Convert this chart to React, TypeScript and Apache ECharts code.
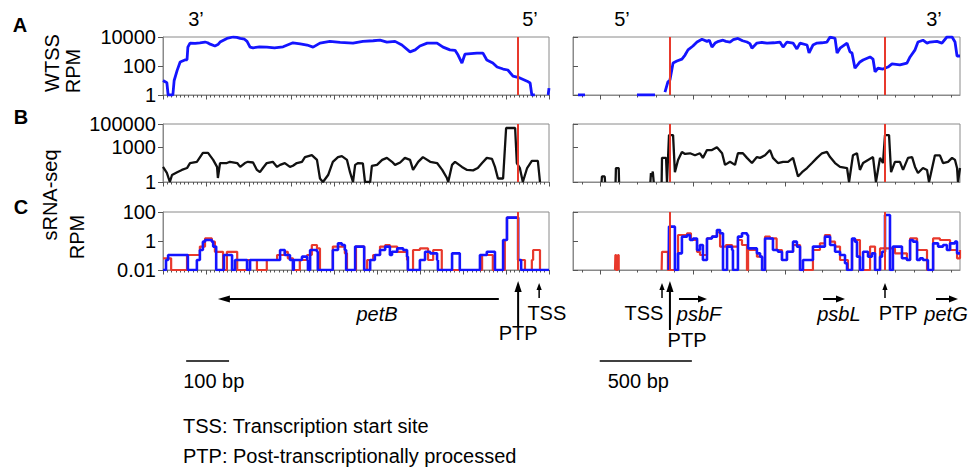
import React, { useEffect, useRef } from "react";
import * as echarts from "echarts";

const FONT_FAMILY = "'Liberation Sans', Arial, Helvetica, sans-serif";
const BLUE = "#1414ff";
const RED = "#e8392c";
const BLACK = "#111111";
const FRAME = "#8a8a8a";
const TICK = "#555555";

type Pt = [number, number | null];

// ---------- x axes (bp) ----------
const leftRange: [number, number] = [0, 900];
const rightRange: [number, number] = [-150, 1950];
const leftTickInterval = 100;
const rightMajorTicks = [0, 500, 1000, 1500];
const rightMinorTicks = [-100, 100, 200, 300, 400, 600, 700, 800, 900, 1100, 1200, 1300, 1400, 1600, 1700, 1800, 1900];

// ---------- y axes tick labels ----------
const wtssTicks = [1, 100, 10000];
const srnaTicks = [1, 1000, 100000];
const rpmTicks = [0.01, 1, 100];

// ---------- processing sites (red lines, bp) ----------
const sitesLeft = [828];
const sitesRight = [376, 1543];

// ---------- A: WTSS RPM ----------
const wtssLeft: Pt[] = [
  [0, 10], [9, 7], [12, 1], [23, 1], [26, 10], [33, 50], [40, 190], [51, 260], [56, 270], [58, 2000], [63, 3800],
  [75, 3600], [86, 4000], [98, 4500], [104, 4000], [110, 3200], [121, 2400], [128, 3000], [133, 4500], [149, 8000],
  [163, 10000], [172, 9500], [180, 8000], [190, 7000], [196, 5000], [203, 2000], [210, 1800], [225, 2100], [242, 2000],
  [260, 1800], [280, 2100], [303, 4000], [320, 3400], [336, 2800], [350, 2000], [366, 3800], [389, 5000], [413, 4200],
  [443, 3800], [466, 5000], [490, 5500], [506, 6000], [522, 4500], [541, 5000], [557, 2800], [576, 950], [588, 1300],
  [599, 2400], [616, 3800], [639, 3800], [653, 2000], [669, 1300], [681, 1200], [688, 570], [697, 160], [704, 650],
  [732, 780], [746, 780], [755, 260], [769, 160], [779, 85], [793, 62], [804, 53], [816, 20], [832, 15], [849, 9],
  [856, 6.7], [860, 1], [867, 1], [868, null], [898, 1], [900, 3],
];
const wtssRight: Pt[] = [
  [-123, 1], [-85, 1], [-84, null], [197, 1], [295, 1], [296, null],
  [349, 1.6], [365, 8], [376, 11], [393, 160], [414, 220], [441, 300], [458, 570], [474, 1300], [501, 2400], [523, 4500],
  [550, 7000], [577, 5000], [590, 6000], [604, 2000], [621, 3800], [640, 5000], [664, 6000], [680, 5000], [702, 4500],
  [720, 6500], [745, 8000], [770, 5500], [794, 4500], [810, 3500], [821, 1700], [848, 3800], [875, 4200], [903, 3800],
  [940, 4000], [973, 4500], [990, 2000], [1011, 4500], [1044, 3800], [1065, 1500], [1082, 3800], [1120, 2800],
  [1131, 800], [1152, 2800], [1174, 3800], [1200, 4000], [1228, 4500], [1245, 10000], [1272, 8000], [1283, 780],
  [1299, 1700], [1337, 3800], [1353, 950], [1364, 780], [1380, 70], [1407, 190], [1424, 260], [1462, 420], [1478, 300],
  [1489, 40], [1505, 70], [1532, 62], [1559, 85], [1581, 140], [1624, 120], [1662, 160], [1679, 420], [1706, 1300],
  [1722, 4500], [1749, 6000], [1771, 3800], [1787, 4500], [1825, 5000], [1852, 3800], [1879, 10000], [1907, 10000],
  [1923, 4500], [1934, 490], [1950, 490],
];

// ---------- B: sRNA-seq ----------
const srnaLeft: Pt[] = [
  [0, 20], [9, 6], [16, 1], [21, 4], [33, 7], [44, 11], [56, 16], [63, 43], [79, 55], [93, 320], [105, 320], [117, 80],
  [126, 20], [128, 2.2], [133, 43], [149, 43], [156, 55], [173, 43], [180, 20], [191, 43], [198, 55], [210, 48],
  [219, 11], [226, 7], [233, 16], [242, 43], [256, 55], [266, 20], [273, 30], [284, 43], [296, 20], [303, 25],
  [312, 43], [324, 55], [331, 140], [347, 210], [359, 80], [366, 2], [373, 1], [385, 4], [396, 55], [408, 140],
  [417, 170], [429, 80], [436, 7], [443, 1], [448, 30], [455, 43], [466, 40], [471, 1], [483, 1], [487, 24], [499, 30],
  [511, 80], [522, 120], [534, 55], [541, 30], [553, 48], [564, 120], [576, 80], [583, 11], [595, 55], [606, 140],
  [623, 55], [639, 43], [651, 11], [662, 2.2], [665, 1], [674, 30], [681, 55], [697, 20], [709, 11], [723, 10],
  [734, 16], [744, 43], [755, 120], [767, 100], [774, 20], [781, 2], [793, 2], [800, 45000], [821, 45000], [825, 43],
  [832, 16], [839, 1], [849, 16], [860, 65], [874, 65], [879, 1],
];
const srnaRight: Pt[] = [
  [5, 1], [7, 3], [22, 3], [24, 1], [26, null], [81, 1], [83, 16], [98, 16], [100, 1], [102, null],
  [270, 1], [273, 6], [278, 3], [283, 8], [288, 1], [290, null],
  [331, 1], [333, 120], [355, 120], [360, 1], [371, 11000], [393, 11000], [403, 7], [420, 80], [441, 390], [458, 260],
  [485, 300], [512, 200], [539, 300], [555, 120], [577, 570], [604, 570], [631, 1000], [659, 300], [675, 30], [702, 55],
  [729, 30], [745, 300], [772, 300], [794, 120], [821, 43], [848, 140], [865, 120], [892, 200], [919, 570], [935, 120],
  [962, 43], [990, 55], [1017, 55], [1044, 120], [1071, 3], [1093, 7], [1120, 16], [1147, 43], [1174, 120], [1201, 300],
  [1228, 390], [1245, 140], [1272, 43], [1299, 20], [1337, 16], [1348, 1], [1369, 200], [1391, 300], [1407, 11],
  [1424, 43], [1451, 80], [1478, 140], [1494, 1], [1516, 120], [1532, 43], [1543, 11000], [1565, 11000], [1576, 7],
  [1597, 55], [1624, 55], [1641, 11], [1668, 120], [1690, 140], [1706, 20], [1722, 6], [1749, 16], [1771, 11],
  [1782, 1], [1814, 200], [1841, 200], [1858, 43], [1885, 55], [1907, 120], [1923, 80], [1934, 16], [1939, 1], [1950, 16],
];

// ---------- C: sRNA-seq RPM (two libraries; step traces) ----------
const rpmRedLeft: Pt[] = [
  [0, 0.064], [19, 0.01], [56, 0.108], [86, 0.41], [98, 1.5], [114, 0.9], [121, 0.18], [140, 0.01], [149, 0.18],
  [173, 0.01], [196, 0.049], [219, 0.01], [242, 0.049], [266, 0.108], [284, 0.18], [291, 0.064], [303, 0.01],
  [319, 0.049], [336, 0.108], [347, 0.53], [359, 0.31], [366, 0.01], [396, 0.41], [424, 0.141], [429, 0.01],
  [450, 0.41], [469, 0.01], [476, 0.049], [490, 0.108], [506, 0.41], [518, 0.53], [529, 0.41], [546, 0.18],
  [569, 0.049], [571, 0.01], [583, 0.24], [599, 0.31], [618, 0.049], [630, 0.24], [650, 0.01], [744, 0.108],
  [769, 0.01], [797, 1.17], [802, 41], [828, 0.049], [844, 0.01], [860, 0.049], [863, 0.24], [879, 0.01], [900, 0.01],
];
const rpmBlueLeft: Pt[] = [
  [0, 0.01], [7, 0.049], [12, 0.108], [58, 0.01], [79, 0.049], [86, 0.24], [93, 0.9], [98, 1.17], [114, 0.9],
  [117, 0.41], [124, 0.01], [142, 0.108], [161, 0.01], [168, 0.049], [196, 0.01], [203, 0.049], [273, 0.24],
  [284, 0.108], [296, 0.049], [303, 0.01], [305, 0.049], [324, 0.083], [336, 0.049], [338, 0.01], [343, 0.24],
  [359, 0.18], [361, 0.01], [396, 0.24], [408, 0.69], [417, 0.53], [424, 0.24], [427, 0.01], [448, 0.41], [469, 0.01],
  [483, 0.049], [494, 0.108], [506, 0.24], [518, 0.41], [529, 0.108], [534, 0.18], [546, 0.31], [560, 0.24],
  [569, 0.083], [571, 0.01], [599, 0.049], [611, 0.18], [623, 0.141], [639, 0.049], [641, 0.01], [674, 0.141],
  [692, 0.01], [739, 0.108], [755, 0.18], [774, 0.01], [793, 1.17], [802, 41], [828, 0.049], [835, 0.01], [900, 0.01],
];
const rpmRedRight: Pt[] = [
  [78, 0.01], [80, 0.108], [84, 0.01], [92, 0.01], [94, 0.108], [98, 0.01], [100, 0.01], [101, null],
  [331, 0.01], [333, 0.18], [365, 0.01], [410, 0.01], [420, 2.6], [469, 3.4], [490, 1.17], [505, 1.17], [523, 0.18],
  [539, 0.108], [555, 0.108], [577, 1.5], [604, 2.0], [631, 4.0], [648, 0.41], [680, 0.53], [713, 0.41], [745, 1.17],
  [767, 0.53], [794, 0.01], [800, 0.24], [848, 0.083], [876, 0.01], [892, 2.0], [919, 1.5], [955, 0.24], [984, 0.049],
  [1011, 0.18], [1044, 0.53], [1082, 0.01], [1152, 0.24], [1190, 0.69], [1217, 2.6], [1245, 0.9], [1272, 0.41],
  [1299, 0.049], [1342, 0.01], [1364, 1.17], [1407, 0.01], [1462, 0.41], [1489, 0.01], [1516, 0.31], [1543, 0.31],
  [1597, 0.141], [1662, 0.049], [1679, 1.5], [1717, 0.24], [1749, 0.24], [1771, 0.01], [1804, 1.5], [1841, 1.17],
  [1896, 0.24], [1934, 0.064], [1950, 0.24],
];
const rpmBlueRight: Pt[] = [
  [369, 0.01], [371, 9.8], [403, 0.01], [420, 0.141], [441, 2.0], [469, 2.6], [485, 1.17], [501, 1.5], [523, 0.24],
  [539, 0.53], [555, 0.049], [577, 1.5], [604, 2.0], [631, 5.7], [648, 3.4], [664, 0.01], [686, 0.41], [713, 0.24],
  [718, 0.01], [745, 2.0], [767, 3.4], [794, 2.6], [800, 0.31], [848, 0.141], [865, 0.083], [876, 0.01], [892, 1.5],
  [935, 0.24], [962, 0.18], [984, 0.049], [1011, 0.18], [1044, 0.9], [1065, 0.41], [1082, 0.01], [1098, 0.049],
  [1152, 0.41], [1217, 2.0], [1245, 0.53], [1272, 0.18], [1299, 0.108], [1326, 0.029], [1337, 0.01], [1364, 1.5],
  [1380, 0.9], [1391, 0.083], [1407, 0.01], [1424, 0.18], [1451, 0.083], [1472, 0.141], [1489, 0.01], [1516, 0.083],
  [1527, 0.18], [1543, 62], [1570, 0.01], [1586, 0.41], [1635, 0.064], [1662, 0.049], [1679, 1.17], [1695, 0.9],
  [1717, 0.049], [1733, 0.064], [1749, 0.049], [1776, 0.01], [1804, 0.69], [1831, 0.41], [1858, 0.53], [1879, 0.24],
  [1896, 0.69], [1923, 0.9], [1934, 0.141], [1950, 0.141],
];

// ---------- annotations (bp positions) ----------
const genesLeft = [{ name: "petB", from: 783, to: 128, labelAt: 499 }];
const genesRight = [
  { name: "psbF", from: 425, to: 577, labelAt: 534 },
  { name: "psbL", from: 1207, to: 1326, labelAt: 1293 },
  { name: "petG", from: 1820, to: 1939, labelAt: 1874 },
];
const siteMarksLeft = [
  { label: "PTP", at: 828, big: true, labelAt: 828 },
  { label: "TSS", at: 877, big: false, labelAt: 895 },
];
const siteMarksRight = [
  { label: "TSS", at: 333, big: false, labelAt: 235 },
  { label: "PTP", at: 376, big: true, labelAt: 469 },
  { label: "PTP", at: 1543, big: false, labelAt: 1614 },
];
const scaleBars = [
  { side: 0, start: 54, length: 100, label: "100 bp", labelDx: -3 },
  { side: 1, start: -5, length: 500, label: "500 bp", labelDx: 8 },
];

const cols = [
  { left: 163, width: 386 },
  { left: 573, width: 387 },
];
const rowTops = [37, 124, 212];
const ROW_H = 58;

const fmt = (v: number) => String(parseFloat(Number(v).toPrecision(6)));

function buildOption() {
  const grid: any[] = [];
  const xAxis: any[] = [];
  const yAxis: any[] = [];
  const series: any[] = [];
  const yTicks = [wtssTicks, srnaTicks, rpmTicks];

  for (let r = 0; r < 3; r++) {
    for (let c = 0; c < 2; c++) {
      const g = r * 2 + c;
      grid.push({
        left: cols[c].left, top: rowTops[r], width: cols[c].width, height: ROW_H,
        show: true, borderColor: FRAME, borderWidth: 1, backgroundColor: "transparent",
      });
      const range = c === 0 ? leftRange : rightRange;
      const xa: any = {
        type: "value", gridIndex: g, min: range[0], max: range[1],
        axisLine: { show: true, onZero: false, lineStyle: { color: FRAME, width: 1 } },
        axisLabel: { show: false }, splitLine: { show: false },
        axisTick: { show: true, length: 4.5, lineStyle: { color: TICK, width: 1 } },
      };
      if (c === 0) {
        xa.interval = leftTickInterval;
        xa.minorTick = { show: true, splitNumber: 10, length: 2.5, lineStyle: { color: TICK, width: 1 } };
        xa.minorSplitLine = { show: false };
      } else {
        xa.axisTick.customValues = rightMajorTicks;
      }
      xAxis.push(xa);
      const t = yTicks[r];
      yAxis.push({
        type: "log", gridIndex: g, logBase: t[1] / t[0], min: t[0], max: t[t.length - 1],
        axisLine: { show: true, onZero: false, lineStyle: { color: FRAME, width: 1 } },
        axisTick: { show: true, inside: c === 1, length: 5, lineStyle: { color: TICK, width: 1 } },
        axisLabel: {
          show: c === 0, fontSize: 20, color: "#000", fontFamily: FONT_FAMILY, margin: 7,
          showMinLabel: true, showMaxLabel: true, formatter: fmt,
        },
        splitLine: { show: false },
      });
    }
  }
  // minor ticks for right-hand panels
  for (let r = 0; r < 3; r++) {
    xAxis.push({
      type: "value", gridIndex: r * 2 + 1, min: rightRange[0], max: rightRange[1], position: "bottom",
      axisLine: { show: false, onZero: false }, axisLabel: { show: false }, splitLine: { show: false },
      axisTick: { show: true, length: 2.5, customValues: rightMinorTicks, lineStyle: { color: TICK, width: 1 } },
    });
  }

  const mark = (sites: number[]) => ({
    silent: true, symbol: ["none", "none"], label: { show: false }, animation: false,
    lineStyle: { color: RED, width: 2, type: "solid", opacity: 1 },
    emphasis: { disabled: true },
    data: sites.map((s) => ({ xAxis: s })),
  });
  const line = (g: number, data: Pt[], color: string, width: number, extra: any = {}) => ({
    type: "line", xAxisIndex: g, yAxisIndex: g, data, showSymbol: false, symbol: "none",
    lineStyle: { color, width }, itemStyle: { color }, emphasis: { disabled: true }, silent: true,
    connectNulls: false, ...extra,
  });

  series.push(line(0, wtssLeft, BLUE, 2.8, { markLine: mark(sitesLeft), z: 2 }));
  series.push(line(1, wtssRight, BLUE, 2.8, { markLine: mark(sitesRight), z: 2 }));
  series.push(line(2, srnaLeft, BLACK, 2.3, { markLine: mark(sitesLeft), z: 2 }));
  series.push(line(3, srnaRight, BLACK, 2.3, { markLine: mark(sitesRight), z: 2 }));
  series.push(line(4, rpmRedLeft, RED, 2.2, { step: "end", markLine: mark(sitesLeft), z: 2 }));
  series.push(line(4, rpmBlueLeft, BLUE, 2.6, { step: "end", z: 3 }));
  series.push(line(5, rpmRedRight, RED, 2.2, { step: "end", markLine: mark(sitesRight), z: 2 }));
  series.push(line(5, rpmBlueRight, BLUE, 2.6, { step: "end", z: 3 }));

  return {
    animation: false,
    backgroundColor: "#ffffff",
    textStyle: { fontFamily: FONT_FAMILY },
    grid, xAxis, yAxis, series,
  };
}

function buildGraphic(chart: any) {
  const px = (side: number, bp: number) => chart.convertToPixel({ xAxisIndex: side === 0 ? 4 : 5 }, bp) as number;
  const els: any[] = [];
  const txt = (text: string, x: number, y: number, o: any = {}) =>
    els.push({
      type: "text", x, y, rotation: o.rotation || 0, silent: true,
      style: {
        text, fill: "#000",
        font: `${o.italic ? "italic " : ""}${o.bold ? "bold " : ""}${o.size || 20}px ${FONT_FAMILY}`,
        textAlign: o.align || "center", textVerticalAlign: "middle",
      },
    });
  const seg = (x1: number, y1: number, x2: number, y2: number, w: number) =>
    els.push({ type: "line", silent: true, shape: { x1, y1, x2, y2 }, style: { stroke: "#000", lineWidth: w } });
  const tri = (pts: number[][]) => els.push({ type: "polygon", silent: true, shape: { points: pts }, style: { fill: "#000" } });

  // gene arrows
  const GENE_Y = 299;
  const geneArrow = (side: number, gdef: any) => {
    const x1 = px(side, gdef.from);
    const x2 = px(side, gdef.to);
    const d = Math.sign(x2 - x1);
    const hl = side === 0 ? 12 : 9;
    const hh = 3.5;
    seg(x1, GENE_Y, x2 - d * hl * 0.6, GENE_Y, 2);
    tri([[x2, GENE_Y], [x2 - d * hl, GENE_Y - hh], [x2 - d * hl, GENE_Y + hh]]);
    txt(gdef.name, px(side, gdef.labelAt), 314, { italic: true });
  };
  genesLeft.forEach((gd) => geneArrow(0, gd));
  genesRight.forEach((gd) => geneArrow(1, gd));

  // site arrows
  const siteArrow = (side: number, s: any) => {
    const x = px(side, s.at);
    const tip = s.big ? 281 : 283;
    const bottom = s.big ? (side === 0 ? 327 : 330) : 298;
    const hl = s.big ? 11 : 7;
    const hw = s.big ? 3.6 : 2.6;
    seg(x, bottom, x, tip + hl * 0.6, s.big ? 2 : 1.5);
    tri([[x, tip], [x - hw, tip + hl], [x + hw, tip + hl]]);
    const ly = s.big ? (side === 0 ? 333 : 340) : 313;
    txt(s.label, px(side, s.labelAt), ly);
  };
  siteMarksLeft.forEach((s) => siteArrow(0, s));
  siteMarksRight.forEach((s) => siteArrow(1, s));

  // scale bars
  scaleBars.forEach((b) => {
    const x1 = px(b.side, b.start);
    const x2 = px(b.side, b.start + b.length);
    seg(x1, 361, x2, 361, 1.5);
    txt(b.label, x1 + b.labelDx, 381, { align: "left" });
  });

  // panel letters
  txt("A", 20, 25, { bold: true });
  txt("B", 21, 117, { bold: true });
  txt("C", 21, 207, { bold: true });
  // axis titles
  txt("WTSS", 52, 63, { rotation: Math.PI / 2 });
  txt("RPM", 73, 71, { rotation: Math.PI / 2 });
  txt("sRNA-seq", 50, 195, { rotation: Math.PI / 2 });
  txt("RPM", 77, 237, { rotation: Math.PI / 2 });
  // strand ends
  txt("3\u2019", 196, 19);
  txt("5\u2019", 530, 19);
  txt("5\u2019", 622, 19);
  txt("3\u2019", 934, 19);
  // key
  txt("TSS: Transcription start site", 183, 426, { align: "left" });
  txt("PTP: Post-transcriptionally processed", 183, 456, { align: "left" });
  return els;
}

export default function App() {
  const ref = useRef<HTMLDivElement>(null);
  useEffect(() => {
    if (!ref.current) return;
    const chart = echarts.init(ref.current, undefined, { renderer: "svg" });
    chart.setOption(buildOption() as any);
    chart.setOption({ graphic: buildGraphic(chart) } as any);
    return () => chart.dispose();
  }, []);
  return (
    <div
      ref={ref}
      style={{ position: "fixed", left: 0, top: 0, width: 971, height: 472, background: "#fff" }}
    />
  );
}
